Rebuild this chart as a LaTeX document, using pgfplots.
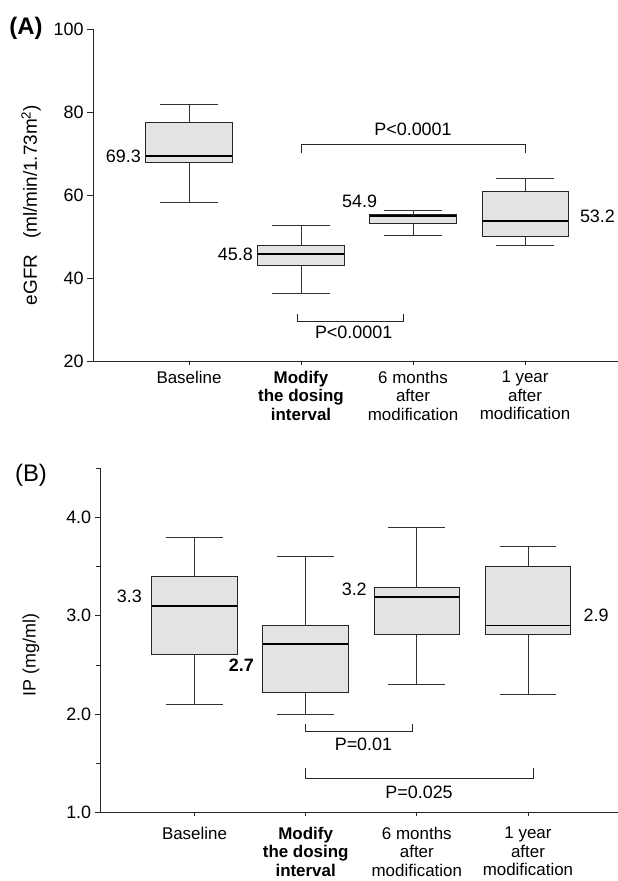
\documentclass[border=0pt]{standalone}
\usepackage{fontspec}
\setmainfont{Liberation Sans}
\usepackage{pgfplots}
\pgfplotsset{compat=1.18}
\usepgfplotslibrary{statistics}
\newcommand\fn{\fontsize{18}{21}\selectfont}
\newcommand\fc{\fontsize{17}{18.5}\selectfont}
\pgfplotsset{
  myaxis/.style={
    scale only axis,
    axis x line=bottom, axis y line=left,
    axis line style={-, line width=1bp, black!85},
    tick align=outside,
    major tick length=6bp, minor tick length=5bp,
    tick style={line width=0.8bp, black!85},
    xtick style={/pgfplots/major tick length=3bp},
    xtick={1,2,3,4},
    xticklabels={Baseline,{\textbf{Modify}\\\textbf{the dosing}\\\textbf{interval}},{6 months\\after\\modification},{1 year\\after\\modification}},
    x tick label style={align=center, font=\fc, anchor=north},
    y tick label style={font=\fn},
    /pgf/number format/assume math mode=true,
    clip=false,
    boxplot/draw direction=y,
    boxplot/box extend=0.77,
    boxplot/whisker extend=0.51,
    boxplot/every median/.style={line width=1.8bp, black},
    boxplot/every whisker/.style={line width=0.7bp, black!80},
    boxplot/every box/.style={line width=0.8bp, draw=black!85, fill=black!11},
  },
  bx/.style={draw=black!85, line width=0.8bp},
  br/.style={black!85, line width=0.8bp, mark=none},
}
\begin{document}
\begin{tikzpicture}[x=1bp,y=1bp]
\path[use as bounding box] (0,0) rectangle (618,-881);

% ---------------- Panel A ----------------
\begin{axis}[myaxis,
  at={(93bp,-361.5bp)}, anchor=south west,
  width=525bp, height=332.2bp,
  xmin=0.143, xmax=4.83, ymin=20, ymax=100,
  ytick={20,40,60,80,100},
]
\addplot[bx, boxplot prepared={lower whisker=58.4, lower quartile=68.0, median=69.5, upper quartile=77.6, upper whisker=82.0, draw position=1}] coordinates {};
\addplot[bx, boxplot prepared={lower whisker=36.4, lower quartile=43.2, median=45.8, upper quartile=48.0, upper whisker=52.8, draw position=2}] coordinates {};
\addplot[bx, boxplot prepared={lower whisker=50.5, lower quartile=53.2, median=55.0, upper quartile=55.4, upper whisker=56.4, draw position=3}] coordinates {};
\addplot[bx, boxplot prepared={lower whisker=48.0, lower quartile=50.1, median=53.8, upper quartile=60.9, upper whisker=64.1, draw position=4}] coordinates {};
% brackets
\addplot[br] coordinates {(2,70.1) (2,72.4) (4,72.4) (4,70.1)};
\addplot[br] coordinates {(1.97,31.5) (1.97,29.7) (2.91,29.7) (2.91,31.5)};
\node[font=\fn] at (axis cs:3,75.8) {P<0.0001};
\node[font=\fn] at (axis cs:2.47,27.0) {P<0.0001};
% value labels
\node[font=\fn, anchor=east, inner sep=1bp] at (axis cs:0.58,69.5) {69.3};
\node[font=\fn, anchor=east, inner sep=1bp] at (axis cs:1.58,45.8) {45.8};
\node[font=\fn, anchor=east, inner sep=1bp] at (axis cs:2.69,58.5) {54.9};
\node[font=\fn, anchor=west, inner sep=1bp] at (axis cs:4.48,55.0) {53.2};
\end{axis}

% ---------------- Panel B ----------------
\begin{axis}[myaxis,
  at={(100.7bp,-812.5bp)}, anchor=south west,
  width=517.3bp, height=344.4bp,
  xmin=0.156, xmax=4.81, ymin=1, ymax=4.5,
  ytick={1,2,3,4}, minor ytick={1.5,2.5,3.5,4.5},
  yticklabel style={/pgf/number format/fixed, /pgf/number format/zerofill, /pgf/number format/precision=1},
  x tick label style={yshift=-5bp},
]
\addplot[bx, boxplot prepared={lower whisker=2.1, lower quartile=2.61, median=3.10, upper quartile=3.40, upper whisker=3.80, draw position=1}] coordinates {};
\addplot[bx, boxplot prepared={lower whisker=2.0, lower quartile=2.22, median=2.71, upper quartile=2.90, upper whisker=3.60, draw position=2}] coordinates {};
\addplot[bx, boxplot prepared={lower whisker=2.3, lower quartile=2.81, median=3.19, upper quartile=3.29, upper whisker=3.90, draw position=3}] coordinates {};
\addplot[bx, boxplot prepared={lower whisker=2.2, lower quartile=2.81, median=2.90, upper quartile=3.50, upper whisker=3.70, draw position=4}] coordinates {};
% brackets
\addplot[br] coordinates {(2,1.90) (2,1.82) (2.96,1.82) (2.96,1.90)};
\addplot[br] coordinates {(2,1.45) (2,1.35) (4.05,1.35) (4.05,1.45)};
\node[font=\fn] at (axis cs:2.52,1.69) {P=0.01};
\node[font=\fn] at (axis cs:3.02,1.21) {P=0.025};
% value labels
\node[font=\fn, anchor=east, inner sep=1bp] at (axis cs:0.537,3.20) {3.3};
\node[font=\fn\bfseries, anchor=east, inner sep=1bp] at (axis cs:1.544,2.50) {2.7};
\node[font=\fn, anchor=east, inner sep=1bp] at (axis cs:2.56,3.27) {3.2};
\node[font=\fn, anchor=west, inner sep=1bp] at (axis cs:4.49,3.00) {2.9};
\end{axis}

% panel letters and y labels
\node[font=\fontsize{24}{26}\selectfont\bfseries] at (26,-28) {(A)};
\node[font=\fontsize{24}{26}\selectfont] at (31,-475) {(B)};
\node[font=\fontsize{19}{21}\selectfont, rotate=90] at (31,-205) {eGFR\ \ \ (ml/min/1.73m\textsuperscript{2})};
\node[font=\fn, rotate=90] at (31,-655) {IP (mg/ml)};
\end{tikzpicture}
\end{document}
